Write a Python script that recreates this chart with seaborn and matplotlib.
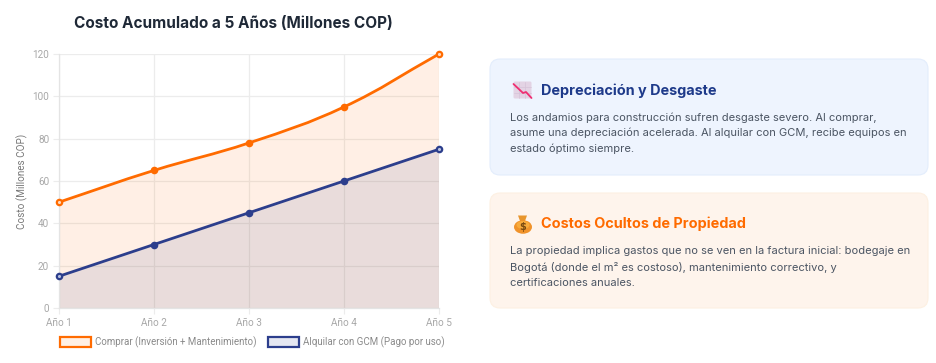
import numpy as np
import pandas as pd
import matplotlib
matplotlib.use("Agg")
import matplotlib.pyplot as plt
import seaborn as sns
from matplotlib.path import Path
from matplotlib.patches import PathPatch, FancyBboxPatch, Rectangle, Ellipse, Polygon

years = ["Año 1", "Año 2", "Año 3", "Año 4", "Año 5"]
comprar = [50, 65, 78, 95, 120]
alquilar = [15, 30, 45, 60, 75]
yticks = [0, 20, 40, 60, 80, 100, 120]
chart_title = "Costo Acumulado a 5 Años (Millones COP)"
y_label = "Costo (Millones COP)"
label_comprar = "Comprar (Inversión + Mantenimiento)"
label_alquilar = "Alquilar con GCM (Pago por uso)"
card1_title = "Depreciación y Desgaste"
card1_lines = ["Los andamios para construcción sufren desgaste severo. Al comprar,",
               "asume una depreciación acelerada. Al alquilar con GCM, recibe equipos en",
               "estado óptimo siempre."]
card2_title = "Costos Ocultos de Propiedad"
card2_lines = ["La propiedad implica gastos que no se ven en la factura inicial: bodegaje en",
               "Bogotá (donde el m² es costoso), mantenimiento correctivo, y",
               "certificaciones anuales."]

ORANGE = "#ff6b00"
NAVY = "#2c3e8c"
W, H = 936, 363
sns.set_theme(style="white")
plt.rcParams["font.family"] = ["Roboto", "DejaVu Sans"]

fig = plt.figure(figsize=(W / 100, H / 100), dpi=100, facecolor="white")
L, R, T, B = 59, 439, 54, 308
ax = fig.add_axes([L / W, 1 - B / H, (R - L) / W, (B - T) / H])
ax.set_facecolor("white")

SX = (R - L) / 4.0
SY = (B - T) / 120.0

def bezier(vals, tension=0.4):
    """Chart.js spline through the data points (tension in screen space)."""
    xs = np.arange(len(vals), dtype=float)
    ys = np.array(vals, dtype=float)
    n = len(xs)
    before, after = [None] * n, [None] * n
    for i in range(n):
        a, b = max(i - 1, 0), min(i + 1, n - 1)
        d01 = np.hypot((xs[i] - xs[a]) * SX, (ys[i] - ys[a]) * SY)
        d12 = np.hypot((xs[b] - xs[i]) * SX, (ys[b] - ys[i]) * SY)
        fa = d01 / (d01 + d12)
        fb = d12 / (d01 + d12)
        dx, dy = xs[b] - xs[a], ys[b] - ys[a]
        before[i] = (xs[i] - fa * tension * dx, ys[i] - fa * tension * dy)
        after[i] = (xs[i] + fb * tension * dx, ys[i] + fb * tension * dy)
    verts, codes = [(xs[0], ys[0])], [Path.MOVETO]
    for i in range(n - 1):
        verts += [after[i], before[i + 1], (xs[i + 1], ys[i + 1])]
        codes += [Path.CURVE4] * 3
    return verts, codes

df = pd.DataFrame({"x": np.arange(len(years)), "comprar": comprar, "alquilar": alquilar})
for col, colr, fa in (("comprar", ORANGE, 0.10), ("alquilar", NAVY, 0.10)):
    v, c = bezier(df[col])
    fv = v + [(v[-1][0], 0), (v[0][0], 0), v[0]]
    fc = c + [Path.LINETO, Path.LINETO, Path.CLOSEPOLY]
    ax.add_patch(PathPatch(Path(fv, fc), facecolor=colr, alpha=fa, edgecolor="none", zorder=2))
for col, colr, light in (("comprar", ORANGE, "#ffd9bd"), ("alquilar", NAVY, "#b9c2e2")):
    ax.add_patch(PathPatch(Path(*bezier(df[col])), facecolor="none", edgecolor=colr, lw=2.0, zorder=4, capstyle="round"))
    sns.scatterplot(data=df, x="x", y=col, ax=ax, color=colr, s=30, linewidth=0, zorder=5, clip_on=False, legend=False)
    ends = df.iloc[[0, -1]]
    sns.scatterplot(data=ends, x="x", y=col, ax=ax, color=light, s=5, linewidth=0, zorder=6, clip_on=False, legend=False)

ax.set_xlim(0, 4)
ax.set_ylim(0, 120)
ax.set_xticks(df["x"])
ax.set_xticklabels(years)
ax.set_yticks(yticks)
ax.set_xlabel("")
ax.set_ylabel(y_label, fontsize=7.1, color="#777777", labelpad=0)
ax.yaxis.set_label_coords(-31 / (R - L), 0.5)
ax.tick_params(axis="both", labelsize=7.2, labelcolor="#a8a8a8", length=4, width=0.8, color="#ececec", pad=3, left=True, bottom=True)
ax.grid(True, color="#ececec", lw=0.9, zorder=1)
ax.set_axisbelow(True)
for s in ax.spines.values():
    s.set_visible(False)
for side in ("left", "bottom"):
    ax.spines[side].set_visible(True)
    ax.spines[side].set_color("#e4e4e4")
    ax.spines[side].set_linewidth(0.9)

ov = fig.add_axes([0, 0, 1, 1], facecolor="none", zorder=10)
ov.set_xlim(0, W)
ov.set_ylim(H, 0)
ov.axis("off")
INTER = ["Inter", "DejaVu Sans"]
ov.text(233.5, 23, chart_title, ha="center", va="center", fontsize=11.05, fontweight="bold", color="#1f2937", family=INTER)

# legend
for x0, colr, lab in ((59, ORANGE, label_comprar), (267, NAVY, label_alquilar)):
    ov.add_patch(Rectangle((x0 + .5, 337), 31, 10, facecolor=colr if colr == NAVY else "#fff0e4", alpha=1 if colr == ORANGE else 0.12, edgecolor="none"))
    ov.add_patch(Rectangle((x0 + .5, 337), 31, 10, facecolor="none", edgecolor=colr, lw=1.6))
    ov.text(x0 + 36, 342, lab, ha="left", va="center", fontsize=7.05, color="#8a8a8a")

# cards
def card(y0, y1, fc, ec, title, tcol, lines, ty, ly):
    ov.add_patch(FancyBboxPatch((490 + 10, y0 + 10), 936 - 8 - 490 - 20, y1 - y0 - 20,
                                boxstyle="round,pad=10,rounding_size=10", facecolor=fc, edgecolor=ec, lw=0.8, mutation_aspect=1))
    ov.text(541, ty, title, ha="left", va="center", fontsize=10.4, fontweight="bold", color=tcol, family=INTER)
    for i, l in enumerate(lines):
        ov.text(509.5, ly + i * 15.6, l, ha="left", va="center", fontsize=8.0, color="#4b5563", family=INTER)

card(59, 175, "#eef4fe", "#e3edfc", card1_title, "#1e3a8a", card1_lines, 90.5, 117.5)
card(193, 308, "#fef4ec", "#fdf0e2", card2_title, "#ff6b00", card2_lines, 224, 251.5)

# icon: chart decreasing
ov.add_patch(FancyBboxPatch((514, 82), 17, 16, boxstyle="round,pad=0.5,rounding_size=1.5", facecolor="#e3d3e4", edgecolor="none"))
for g in (519, 525):
    ov.plot([g, g], [82, 98], color="#d5c3d8", lw=0.5)
for g in (87, 93):
    ov.plot([514, 531], [g, g], color="#d5c3d8", lw=0.5)
ov.plot([513.5, 523, 526, 531.5], [84, 93, 92, 98], color="#ef2f72", lw=1.3)
# icon: money bag
ov.add_patch(Polygon([[518, 215.5], [527, 215.5], [525, 221], [520, 221]], facecolor="#e8962e", edgecolor="none"))
ov.add_patch(Ellipse((523, 227), 18, 13.5, facecolor="#f0932b", edgecolor="none"))
ov.add_patch(Ellipse((523, 225), 13, 8, facecolor="#f8ab3c", edgecolor="none"))
ov.text(523, 227, "$", ha="center", va="center", fontsize=7, fontweight="bold", color="#7a4a10", family=["DejaVu Sans"])

fig.savefig("out.png", dpi=100)
